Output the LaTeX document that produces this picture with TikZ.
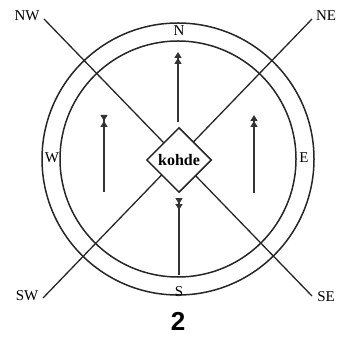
\documentclass[tikz,border=0pt]{standalone}
\usepackage{fontspec}
\setmainfont{Liberation Serif}
\newfontfamily\numfont{Liberation Sans}
\usetikzlibrary{arrows.meta,shapes.geometric}
\begin{document}
\begin{tikzpicture}[x=1pt,y=-1pt,font=\fontsize{15}{17}\selectfont,
   ring/.style={draw=black!85,line width=1.5pt},
   axis/.style={draw=black!85,line width=1.3pt},
   flow/.style={draw=black!80,line width=1.4pt},
   arr/.tip={Triangle[length=6pt,width=7pt]},
   rarr/.tip={Triangle[length=6pt,width=7pt,reversed]},
   dirlabel/.style={inner sep=0pt}]
\useasboundingbox (0,0) rectangle (347,352);
% rings round the target
\coordinate (c) at (178,159);
\draw[ring] (c) circle[radius=136];
\draw[ring] (c) circle[radius=118];
% direction labels
\node[dirlabel] (lnw) at (27,16) {NW};
\node[dirlabel] (lne) at (326,16) {NE};
\node[dirlabel] (lsw) at (27,296) {SW};
\node[dirlabel] (lse) at (326,297) {SE};
\node[dirlabel] (ln) at (179,31) {N};
\node[dirlabel] (ls) at (179,292) {S};
\node[dirlabel] (lw) at (52,158) {W};
\node[dirlabel] (le) at (304,158) {E};
% diagonals
\coordinate (nw) at (44,19); \coordinate (se) at (312,296);
\coordinate (ne) at (312,19); \coordinate (sw) at (43,298);
\draw[axis] (nw) -- (se);
\draw[axis] (ne) -- (sw);
\node[diamond,draw=black!85,line width=1.5pt,fill=white,minimum width=65pt,
      minimum height=65pt,inner sep=0pt,font=\fontsize{16}{18}\selectfont\bfseries]
      (hub) at (179,160) {kohde};
% flow arrows
\coordinate (n0) at (178,122); \coordinate (n1) at (178,52);
\coordinate (s0) at (179,198); \coordinate (s1) at (179,275);
\coordinate (w0) at (104,192); \coordinate (w1) at (104,115);
\coordinate (e0) at (254,193); \coordinate (e1) at (254,115);
\draw[flow,-{arr[]arr[]}] (n0) -- (n1);
\draw[flow,{rarr[]rarr[]}-] (s0) -- (s1);
\draw[flow,-{arr[]rarr[]}] (w0) -- (w1);
\draw[flow,-{arr[]arr[]}] (e0) -- (e1);
\node (fig) at (178,321) {\numfont\bfseries\fontsize{26}{28}\selectfont 2};
\end{tikzpicture}
\end{document}
